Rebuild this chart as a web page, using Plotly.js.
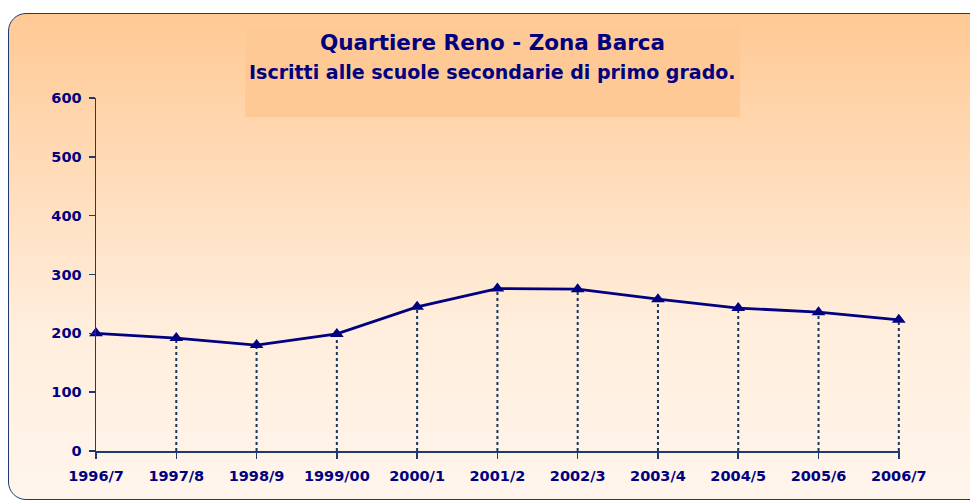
<!DOCTYPE html>
<html>
<head>
<meta charset="utf-8">
<script src="https://cdn.plot.ly/plotly-3.0.1.min.js"></script>
<style>
html,body{margin:0;padding:0;background:#ffffff;width:970px;height:502px;overflow:hidden;}
#frame{position:absolute;left:8px;top:13px;width:990px;height:485px;border:1.5px solid #1F3A6E;border-radius:18px;
background:linear-gradient(to bottom,#FFC994 0%,#FFDDBB 35%,#FFEEDD 65%,#FFF5EC 100%);}
#chart{position:absolute;left:0;top:0;width:970px;height:502px;}
</style>
</head>
<body>
<div id="frame"></div>
<div id="chart"></div>
<script>
const categories = ["1996/7","1997/8","1998/9","1999/00","2000/1","2001/2","2002/3","2003/4","2004/5","2005/6","2006/7"];
const iscritti = [200, 192, 180, 199, 245, 276, 275, 258, 243, 236, 223];
const yTicks = [0, 100, 200, 300, 400, 500, 600];

const navy = "#000080";
const axisCol = "#1F3A6E";
const fam = "DejaVu Sans, Verdana, sans-serif";

// drop lines built from the data (the first point sits on the y axis)
const dropX = [], dropY = [];
categories.forEach((c, i) => { if (i > 0) { dropX.push(c, c, null); dropY.push(0, iscritti[i], null); } });

const traces = [
  {x: categories, y: iscritti, type: "scatter", mode: "none", hoverinfo: "skip", showlegend: false},
  {x: dropX, y: dropY, type: "scatter", mode: "lines", hoverinfo: "skip",
   line: {color: "#17375E", width: 2, dash: "dot"}, showlegend: false, cliponaxis: false},
  {x: categories, y: iscritti, type: "scatter", mode: "lines+markers",
   line: {color: navy, width: 2.8}, marker: {symbol: "triangle-up", size: 12, color: navy},
   showlegend: false, cliponaxis: false}
];

const L = 96, R = 900, T = 98, B = 451, W = 970, H = 502;
const px = v => (v - L) / (R - L);
const py = v => (B - v) / (B - T);

const layout = {
  width: W, height: H,
  margin: {l: L, r: W - R, t: T, b: H - B, pad: 0},
  paper_bgcolor: "rgba(0,0,0,0)", plot_bgcolor: "rgba(0,0,0,0)",
  font: {family: fam, color: navy},
  xaxis: {type: "category", categoryorder: "array", categoryarray: categories,
    range: [0, categories.length - 1 + 0.015], showgrid: false, zeroline: false,
    showline: true, linecolor: axisCol, linewidth: 1.5, ticks: "outside", ticklen: 6, tickcolor: axisCol,
    tickwidth: 1.5, tickfont: {family: fam, size: 14.5, color: navy, weight: "bold"}, ticklabelstandoff: 5, fixedrange: true},
  yaxis: {range: [0, 600], tickvals: yTicks, showgrid: false, zeroline: false,
    showline: true, linecolor: axisCol, linewidth: 1.5, ticks: "outside", ticklen: 6, tickcolor: axisCol,
    tickwidth: 1.5, tickfont: {family: fam, size: 14.5, color: navy, weight: "bold"}, ticklabelstandoff: 4, fixedrange: true},
  shapes: [
    {type: "rect", xref: "paper", yref: "paper", x0: px(245), x1: px(740), y0: py(117), y1: py(27),
     fillcolor: "#FFC995", line: {width: 0}, layer: "below"}
  ],
  annotations: [
    {xref: "paper", yref: "paper", x: px(492), y: py(42), yanchor: "middle", xanchor: "center", showarrow: false,
     text: "<b>Quartiere Reno - Zona Barca</b>", font: {family: fam, size: 21.5, color: navy, weight: "bold"}},
    {xref: "paper", yref: "paper", x: px(492), y: py(72), yanchor: "middle", xanchor: "center", showarrow: false,
     text: "<b>Iscritti alle scuole secondarie di primo grado.</b>", font: {family: fam, size: 19, color: navy, weight: "bold"}}
  ]
};

Plotly.newPlot("chart", traces, layout, {displayModeBar: false, staticPlot: true});
</script>
</body>
</html>
